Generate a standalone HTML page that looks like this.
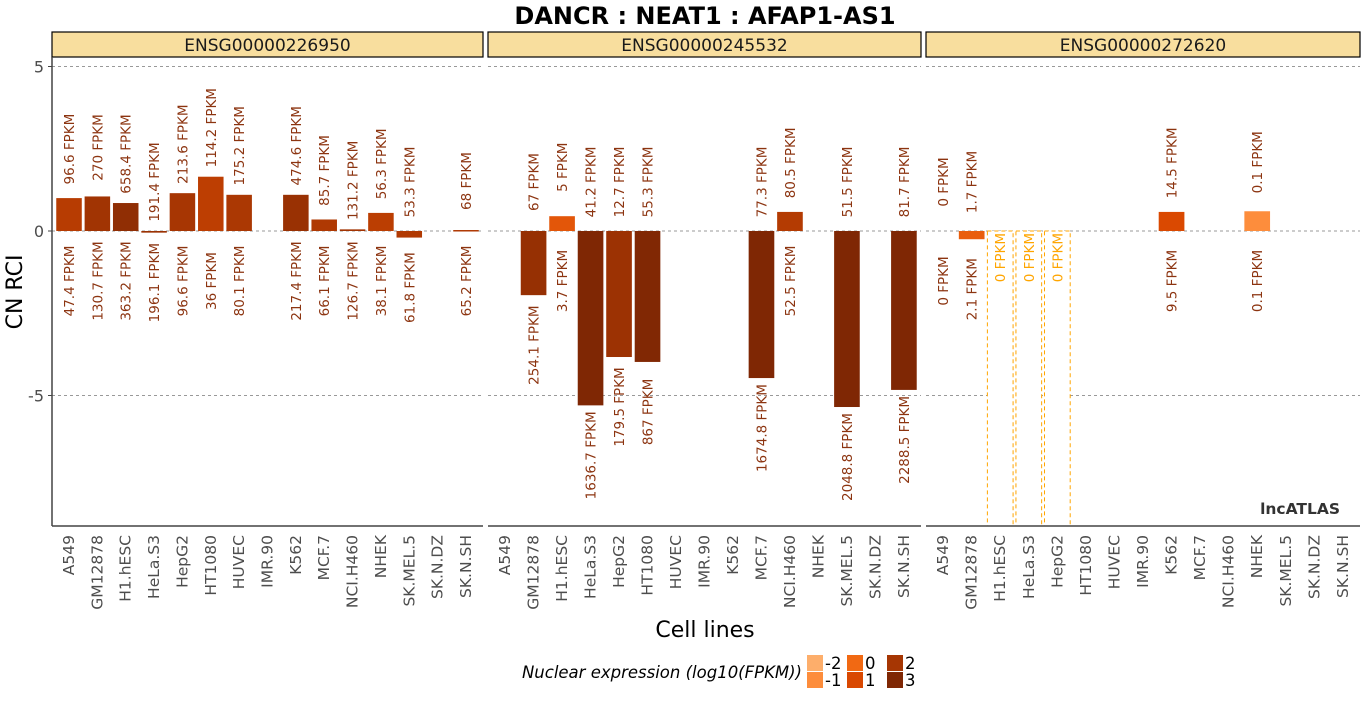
<!DOCTYPE html>
<html><head><meta charset="utf-8"><style>
body{margin:0;background:#fff;width:1364px;height:700px;overflow:hidden}
svg{font-family:"DejaVu Sans","Liberation Sans",sans-serif}
</style></head><body>
<svg id="c" width="1364" height="700" xmlns="http://www.w3.org/2000/svg"></svg>
<script>
const categories=["A549","GM12878","H1.hESC","HeLa.S3","HepG2","HT1080","HUVEC","IMR.90","K562","MCF.7","NCI.H460","NHEK","SK.MEL.5","SK.N.DZ","SK.N.SH"];
const panelNames=["ENSG00000226950","ENSG00000245532","ENSG00000272620"];
// CN RCI values (null = no data)
const rci1=[1.0,1.05,0.85,-0.05,1.15,1.65,1.1,null,1.1,0.35,0.05,0.55,-0.2,null,0.03];
const rci2=[null,-1.95,0.45,-5.3,-3.83,-3.98,null,null,null,-4.47,0.58,null,-5.35,null,-4.83];
const rci3=[0,-0.25,"zero","zero","zero",null,null,null,0.58,null,null,0.6,null,null,null];
// cytoplasmic FPKM (top labels)
const cyto1=[96.6,270,658.4,191.4,213.6,114.2,175.2,null,474.6,85.7,131.2,56.3,53.3,null,68];
const cyto2=[null,67,5,41.2,12.7,55.3,null,null,null,77.3,80.5,null,51.5,null,81.7];
const cyto3=[0,1.7,0,0,0,null,null,null,14.5,null,null,0.1,null,null,null];
// nuclear FPKM (bottom labels)
const nuc1=[47.4,130.7,363.2,196.1,96.6,36,80.1,null,217.4,66.1,126.7,38.1,61.8,null,65.2];
const nuc2=[null,254.1,3.7,1636.7,179.5,867,null,null,null,1674.8,52.5,null,2048.8,null,2288.5];
const nuc3=[0,2.1,0,0,0,null,null,null,9.5,null,null,0.1,null,null,null];
const yTicks=[5,0,-5];
const legendVals=[-2,-1,0,1,2,3];
const legendCols=["#fdae6b","#fd8d3c","#f16913","#d94801","#a63603","#7f2704"];

const NS="http://www.w3.org/2000/svg";
const svg=document.getElementById('c');
function mk(tag,attrs,parent){const e=document.createElementNS(NS,tag);for(const k in attrs)e.setAttribute(k,attrs[k]);(parent||svg).appendChild(e);return e;}
const panels=[[52,483],[488,921],[926,1360]];
const plotTop=57,plotBottom=526;
function y(v){return 231-v*32.9;}
function hex(c){return [1,3,5].map(i=>parseInt(c.substr(i,2),16));}
function col(f){let l=Math.log10(f);l=Math.max(-2,Math.min(3,l));const i=Math.min(4,Math.floor(l+2));const t=l+2-i;const a=hex(legendCols[i]),b=hex(legendCols[i+1]);return "rgb("+a.map((v,k)=>Math.round(v+(b[k]-v)*t)).join(",")+")";}

let tt=mk('text',{x:705,y:24,'text-anchor':'middle','font-size':24,'font-weight':'bold',fill:'#000'});


tt.textContent="DANCR : NEAT1 : AFAP1-AS1";

const rcis=[rci1,rci2,rci3],cytos=[cyto1,cyto2,cyto3],nucs=[nuc1,nuc2,nuc3];
panels.forEach((p,pi)=>{
  const L=p[0],R=p[1];const step=(R-L)/15.2;const bw=step*0.9;
  const g=mk('g',{});
  
  
  const s=mk('rect',{x:L,y:32,width:R-L,height:25,fill:'#f8de9e',stroke:'#000','stroke-width':1.2},g);
  
  
  const st=mk('text',{x:(L+R)/2,y:51,'text-anchor':'middle','font-size':17,fill:'#1a1a1a'},g);
  
  
  st.textContent=panelNames[pi];
  yTicks.forEach(v=>{const gl=mk('line',{x1:L,x2:R,y1:y(v),y2:y(v),stroke:'#999','stroke-dasharray':'3,3','stroke-width':1},g);
    
    });
  categories.forEach((c,i)=>{
    const cx=L+(0.6+i)*step;const v=rcis[pi][i];
    if(v==="zero"){
      const r=mk('rect',{x:cx-bw/2,y:y(0),width:bw,height:plotBottom-y(0),fill:'#fff',stroke:'#ffa500','stroke-dasharray':'4,3','stroke-width':1},g);
      
      
      const lt=mk('text',{x:0,y:0,'font-size':13.5,fill:'#ffa500','text-anchor':'end',transform:`translate(${cx+5},${y(0)+2}) rotate(-90)`},g);
      
      
      lt.textContent=cytos[pi][i]+" FPKM";
    } else if(v!==null){
      if(v!==0){
        const r=mk('rect',{x:cx-bw/2,y:Math.min(y(v),y(0)),width:bw,height:Math.max(Math.abs(y(v)-y(0)),1.5),fill:col(nucs[pi][i])},g);
        
        
      }
      const tl=mk('text',{x:0,y:0,'font-size':13.5,fill:'#8c3410','text-anchor':'middle',transform:`translate(${cx+5},${y(Math.max(v,0))-49}) rotate(-90)`},g);
      
      
      tl.textContent=cytos[pi][i]+" FPKM";
      const bl=mk('text',{x:0,y:0,'font-size':13.5,fill:'#8c3410','text-anchor':'middle',transform:`translate(${cx+5},${y(Math.min(v,0))+50}) rotate(-90)`},g);
      
      
      bl.textContent=nucs[pi][i]+" FPKM";
    }
    const xl=mk('text',{x:0,y:0,'font-size':15.5,fill:'#4d4d4d','text-anchor':'end',transform:`translate(${cx+5},535) rotate(-90)`},g);
    
    
    xl.textContent=c;
  });
  const ax=mk('line',{x1:L,x2:R,y1:plotBottom,y2:plotBottom,stroke:'#444','stroke-width':1.5},g);
  
  
});
const yl=mk('line',{x1:52,x2:52,y1:plotTop,y2:plotBottom,stroke:'#444','stroke-width':1.5});


yTicks.forEach(v=>{
  const tk=mk('text',{x:44,y:y(v)+6,'text-anchor':'end','font-size':16,fill:'#4d4d4d'});
  
  
  tk.textContent=v;
  const tm=mk('line',{x1:48,x2:52,y1:y(v),y2:y(v),stroke:'#444'});
  
  
});
let yt=mk('text',{x:0,y:0,'font-size':22,fill:'#000','text-anchor':'middle',transform:'translate(22,292) rotate(-90)'});


yt.textContent="CN RCI";
let xt=mk('text',{x:705,y:637,'font-size':22,fill:'#000','text-anchor':'middle'});


xt.textContent="Cell lines";
let wm=mk('text',{x:1340,y:514,'font-size':15.5,'font-weight':'bold',fill:'#333','text-anchor':'end'});


wm.textContent="lncATLAS";
let lgt=mk('text',{x:802,y:678,'font-size':16.5,'font-style':'italic',fill:'#000','text-anchor':'end'});


lgt.textContent="Nuclear expression (log10(FPKM))";
legendVals.forEach((v,i)=>{
  const colI=Math.floor(i/2),row=i%2;const x=807+colI*40,yy=655+row*17;
  const r=mk('rect',{x:x,y:yy,width:16,height:16,fill:legendCols[i]});
  
  
  const tx=mk('text',{x:x+18,y:yy+14,'font-size':16.5,fill:'#000'});
  
  
  tx.textContent=v;
});
</script>
</body></html>
